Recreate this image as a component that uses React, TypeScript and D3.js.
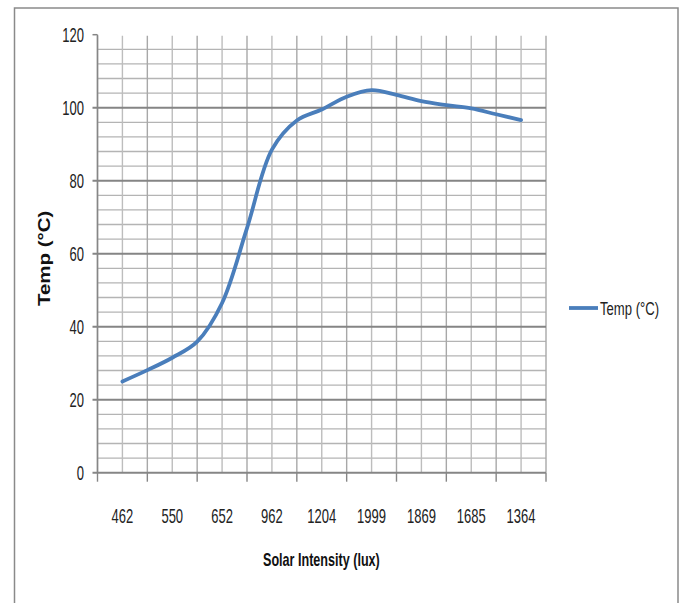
import React from "react";
import * as d3 from "d3";

const tempValues = [25, 28.1, 31.5, 35.9, 46.5, 67, 88.5, 96.5, 99.5, 103, 104.8, 103.5, 101.8, 100.7, 99.8, 98.2, 96.6];
const tickLabels = ["462", "550", "652", "962", "1204", "1999", "1869", "1685", "1364"];
const yMajorTicks = [0, 20, 40, 60, 80, 100, 120];
const seriesName = "Temp (°C)";
const xTitle = "Solar Intensity (lux)";
const yTitle = "Temp  (°C)";

const W = 681;
const H = 603;

export default function App() {
  const x = d3.scaleLinear().domain([-1, tempValues.length]).range([97.5, 546]);
  const y = d3.scaleLinear().domain([0, 120]).range([472.7, 34.7]);
  const minor = d3.range(4, 120, 4).filter((v) => v % 20 !== 0);
  const vgrid = d3.range(-1, tempValues.length + 1);
  const xTickMarks = vgrid.filter((i) => Math.abs(i % 2) === 1);
  const line = d3
    .line<number>()
    .x((_, i) => x(i))
    .y((d) => y(d))
    .curve(d3.curveCatmullRom.alpha(0.5));
  const font = "'Liberation Sans', Arial, sans-serif";
  return (
    <svg width={W} height={H} style={{ position: "absolute", left: 0, top: 0 }}>
      <rect x={0} y={0} width={W} height={H} fill="#fff" />
      <path d={`M14.5,${H + 5} V8 H678 V${H + 5}`} fill="none" stroke="#8a8a8a" strokeWidth={1.5} />
      {minor.map((v) => (
        <line key={"m" + v} x1={x(-1)} x2={x(tempValues.length)} y1={y(v)} y2={y(v)} stroke="#b4b4b4" strokeWidth={1.3} />
      ))}
      {vgrid.map((i) => (
        <line key={"v" + i} x1={x(i)} x2={x(i)} y1={y(120) + 1} y2={y(0)} stroke={i % 2 === 0 ? "#bdbdbd" : "#a8a8a8"} strokeWidth={1.4} />
      ))}
      {yMajorTicks.filter((v) => v > 0 && v < 120).map((v) => (
        <line key={"M" + v} x1={x(-1) - 5} x2={x(tempValues.length)} y1={y(v)} y2={y(v)} stroke="#858585" strokeWidth={2} />
      ))}
      <line x1={x(-1) - 5} x2={x(-1)} y1={y(120)} y2={y(120)} stroke="#858585" strokeWidth={1.5} />
      <line x1={x(-1)} x2={x(-1)} y1={y(120)} y2={y(0)} stroke="#868686" strokeWidth={1.5} />
      <line x1={x(-1) - 5} x2={x(tempValues.length)} y1={y(0)} y2={y(0)} stroke="#868686" strokeWidth={2} />
      {xTickMarks.map((i) => (
        <line key={"t" + i} x1={x(i)} x2={x(i)} y1={y(0)} y2={y(0) + 9} stroke="#868686" strokeWidth={1.4} />
      ))}
      {yMajorTicks.map((v) => (
        <g key={"yl" + v} transform={`translate(84,${y(v) + 7.5}) scale(0.62,1)`}>
          <text textAnchor="end" fontFamily={font} fontSize={21} fill="#222">{v}</text>
        </g>
      ))}
      {tickLabels.map((t, k) => (
        <g key={"xl" + t} transform={`translate(${x(k * 2)},523) scale(0.62,1)`}>
          <text textAnchor="middle" fontFamily={font} fontSize={21} fill="#222">{t}</text>
        </g>
      ))}
      <path d={line(tempValues) || ""} fill="none" stroke="#4a7ebb" strokeWidth={3.8} strokeLinejoin="round" strokeLinecap="round" />
      <g transform="translate(263,566) scale(0.7,1)">
        <text fontFamily={font} fontWeight="bold" fontSize={18} fill="#111">{xTitle}</text>
      </g>
      <g transform="translate(50,306) rotate(-90) scale(1.28,1)">
        <text fontFamily={font} fontWeight="bold" fontSize={16} fill="#111">{yTitle}</text>
      </g>
      <line x1={569} x2={598} y1={308} y2={308} stroke="#4a7ebb" strokeWidth={3.8} />
      <g transform="translate(600,315) scale(0.69,1)">
        <text fontFamily={font} fontSize={19} fill="#222">{seriesName}</text>
      </g>
    </svg>
  );
}
